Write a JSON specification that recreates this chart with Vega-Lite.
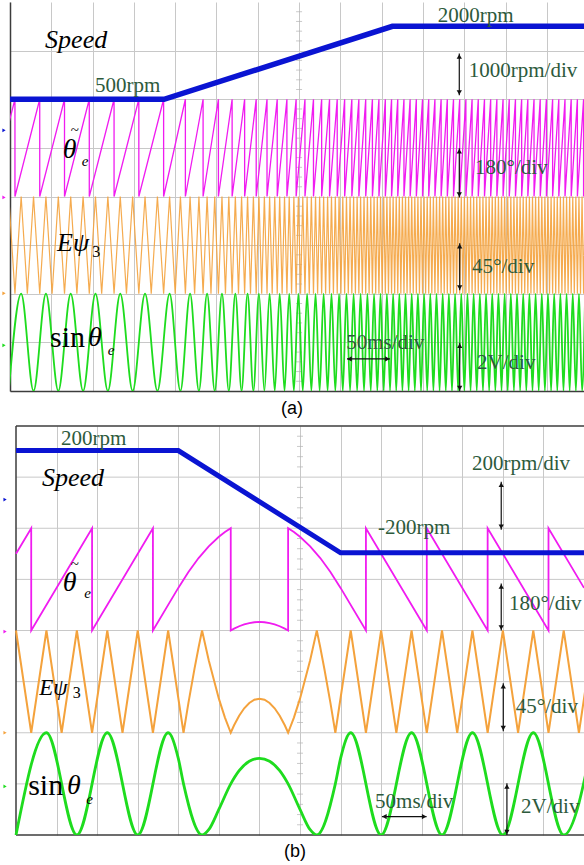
{
"$schema":"https://vega.github.io/schema/vega-lite/v6.json",
"background":"white",
"padding":{"left":2,"top":2,"right":0,"bottom":0},
"spacing":7,
"config":{"view":{"stroke":null}},
"datasets":{
"mt":[{"x":7,"y":0.2},{"x":7,"y":0.4},{"x":7,"y":0.6},{"x":7,"y":0.8},{"x":7,"y":1.2},{"x":7,"y":1.4},{"x":7,"y":1.6},{"x":7,"y":1.8},{"x":7,"y":2.2},{"x":7,"y":2.4},{"x":7,"y":2.6},{"x":7,"y":2.8},{"x":7,"y":3.2},{"x":7,"y":3.4},{"x":7,"y":3.6},{"x":7,"y":3.8},{"x":7,"y":4.2},{"x":7,"y":4.4},{"x":7,"y":4.6},{"x":7,"y":4.8},{"x":7,"y":5.2},{"x":7,"y":5.4},{"x":7,"y":5.6},{"x":7,"y":5.8},{"x":7,"y":6.2},{"x":7,"y":6.4},{"x":7,"y":6.6},{"x":7,"y":6.8},{"x":7,"y":7.2},{"x":7,"y":7.4},{"x":7,"y":7.6},{"x":7,"y":7.8}],
"amk":[{"x":-0.145,"y":5.36,"c":"Speed"},{"x":-0.145,"y":3.98,"c":"theta"},{"x":-0.145,"y":2.01,"c":"Epsi3"},{"x":-0.145,"y":0.94,"c":"sin"}],
"bmk":[{"x":-0.27,"y":6.56,"c":"Speed"},{"x":-0.27,"y":3.98,"c":"theta"},{"x":-0.27,"y":2.0,"c":"Epsi3"},{"x":-0.27,"y":0.95,"c":"sin"}],
"bgrid":[{"x":0,"y":1,"x2":14,"y2":1},{"x":0,"y":2,"x2":14,"y2":2},{"x":0,"y":3,"x2":14,"y2":3},{"x":0,"y":4,"x2":14,"y2":4},{"x":0,"y":5,"x2":14,"y2":5},{"x":0,"y":6,"x2":14,"y2":6},{"x":0,"y":7,"x2":14,"y2":7}],
"bframe":[{"x":0,"y":8,"x2":14,"y2":8},{"x":0,"y":0,"x2":14,"y2":0},{"x":0,"y":0,"x2":0,"y2":8}],
"asp":[{"x":0,"y":6},{"x":3.73,"y":6},{"x":9.26,"y":7.5},{"x":13.9,"y":7.5}],
"at":[{"x":-0.03,"y":5.5},
{"x":0.12,"y":6},{"x":0.12,"y":4},{"x":0.72,"y":6},{"x":0.72,"y":4},{"x":1.32,"y":6},{"x":1.32,"y":4},{"x":1.92,"y":6},{"x":1.92,"y":4},{"x":2.52,"y":6},{"x":2.52,"y":4},{"x":3.12,"y":6},{"x":3.12,"y":4},{"x":3.72,"y":6},{"x":3.72,"y":4},
{"x":4.247,"y":6},{"x":4.247,"y":4},{"x":4.676,"y":6},{"x":4.676,"y":4},{"x":5.047,"y":6},{"x":5.047,"y":4},{"x":5.379,"y":6},{"x":5.379,"y":4},{"x":5.682,"y":6},{"x":5.682,"y":4},{"x":5.962,"y":6},{"x":5.962,"y":4},{"x":6.224,"y":6},{"x":6.224,"y":4},{"x":6.471,"y":6},{"x":6.471,"y":4},{"x":6.706,"y":6},{"x":6.706,"y":4},{"x":6.929,"y":6},{"x":6.929,"y":4},{"x":7.143,"y":6},{"x":7.143,"y":4},{"x":7.349,"y":6},{"x":7.349,"y":4},{"x":7.547,"y":6},{"x":7.547,"y":4},{"x":7.738,"y":6},{"x":7.738,"y":4},{"x":7.924,"y":6},{"x":7.924,"y":4},{"x":8.104,"y":6},{"x":8.104,"y":4},{"x":8.278,"y":6},{"x":8.278,"y":4},{"x":8.448,"y":6},{"x":8.448,"y":4},{"x":8.614,"y":6},{"x":8.614,"y":4},{"x":8.776,"y":6},{"x":8.776,"y":4},{"x":8.934,"y":6},{"x":8.934,"y":4},{"x":9.089,"y":6},{"x":9.089,"y":4},
{"x":9.24,"y":6},{"x":9.24,"y":4},{"x":9.39,"y":6},{"x":9.39,"y":4},{"x":9.54,"y":6},{"x":9.54,"y":4},{"x":9.69,"y":6},{"x":9.69,"y":4},{"x":9.84,"y":6},{"x":9.84,"y":4},{"x":9.99,"y":6},{"x":9.99,"y":4},{"x":10.14,"y":6},{"x":10.14,"y":4},{"x":10.29,"y":6},{"x":10.29,"y":4},{"x":10.44,"y":6},{"x":10.44,"y":4},{"x":10.59,"y":6},{"x":10.59,"y":4},{"x":10.74,"y":6},{"x":10.74,"y":4},{"x":10.89,"y":6},{"x":10.89,"y":4},{"x":11.04,"y":6},{"x":11.04,"y":4},{"x":11.19,"y":6},{"x":11.19,"y":4},{"x":11.34,"y":6},{"x":11.34,"y":4},{"x":11.49,"y":6},{"x":11.49,"y":4},{"x":11.64,"y":6},{"x":11.64,"y":4},{"x":11.79,"y":6},{"x":11.79,"y":4},{"x":11.94,"y":6},{"x":11.94,"y":4},{"x":12.09,"y":6},{"x":12.09,"y":4},{"x":12.24,"y":6},{"x":12.24,"y":4},{"x":12.39,"y":6},{"x":12.39,"y":4},{"x":12.54,"y":6},{"x":12.54,"y":4},{"x":12.69,"y":6},{"x":12.69,"y":4},{"x":12.84,"y":6},{"x":12.84,"y":4},{"x":12.99,"y":6},{"x":12.99,"y":4},{"x":13.14,"y":6},{"x":13.14,"y":4},{"x":13.29,"y":6},{"x":13.29,"y":4},{"x":13.44,"y":6},{"x":13.44,"y":4},{"x":13.59,"y":6},{"x":13.59,"y":4},{"x":13.74,"y":6},{"x":13.74,"y":4},{"x":13.89,"y":6},{"x":13.89,"y":4},{"x":13.928,"y":4.5}],
"ao":[{"x":-0.03,"y":4},{"x":0.12,"y":2},{"x":0.27,"y":4},{"x":0.42,"y":2},{"x":0.57,"y":4},{"x":0.72,"y":2},{"x":0.87,"y":4},{"x":1.02,"y":2},{"x":1.17,"y":4},{"x":1.32,"y":2},{"x":1.47,"y":4},{"x":1.62,"y":2},{"x":1.77,"y":4},{"x":1.92,"y":2},{"x":2.07,"y":4},{"x":2.22,"y":2},{"x":2.37,"y":4},{"x":2.52,"y":2},{"x":2.67,"y":4},{"x":2.82,"y":2},{"x":2.97,"y":4},{"x":3.12,"y":2},{"x":3.27,"y":4},{"x":3.42,"y":2},{"x":3.57,"y":4},{"x":3.72,"y":2},
{"x":3.865,"y":4},{"x":4.0,"y":2},{"x":4.127,"y":4},{"x":4.247,"y":2},{"x":4.361,"y":4},{"x":4.471,"y":2},{"x":4.575,"y":4},{"x":4.676,"y":2},{"x":4.773,"y":4},{"x":4.867,"y":2},{"x":4.958,"y":4},{"x":5.047,"y":2},{"x":5.133,"y":4},{"x":5.217,"y":2},{"x":5.299,"y":4},{"x":5.379,"y":2},{"x":5.457,"y":4},{"x":5.533,"y":2},{"x":5.608,"y":4},{"x":5.682,"y":2},{"x":5.753,"y":4},{"x":5.824,"y":2},{"x":5.894,"y":4},{"x":5.962,"y":2},{"x":6.029,"y":4},{"x":6.095,"y":2},{"x":6.16,"y":4},{"x":6.224,"y":2},{"x":6.287,"y":4},{"x":6.349,"y":2},{"x":6.411,"y":4},{"x":6.471,"y":2},{"x":6.531,"y":4},{"x":6.59,"y":2},{"x":6.648,"y":4},{"x":6.706,"y":2},{"x":6.762,"y":4},{"x":6.819,"y":2},{"x":6.874,"y":4},{"x":6.929,"y":2},{"x":6.983,"y":4},{"x":7.037,"y":2},{"x":7.09,"y":4},{"x":7.143,"y":2},{"x":7.195,"y":4},{"x":7.247,"y":2},{"x":7.298,"y":4},{"x":7.349,"y":2},{"x":7.399,"y":4},{"x":7.449,"y":2},{"x":7.498,"y":4},{"x":7.547,"y":2},{"x":7.595,"y":4},{"x":7.643,"y":2},{"x":7.691,"y":4},{"x":7.738,"y":2},{"x":7.785,"y":4},{"x":7.832,"y":2},{"x":7.878,"y":4},{"x":7.924,"y":2},{"x":7.969,"y":4},{"x":8.014,"y":2},{"x":8.059,"y":4},{"x":8.104,"y":2},{"x":8.148,"y":4},{"x":8.192,"y":2},{"x":8.235,"y":4},{"x":8.278,"y":2},{"x":8.321,"y":4},{"x":8.364,"y":2},{"x":8.406,"y":4},{"x":8.448,"y":2},{"x":8.49,"y":4},{"x":8.532,"y":2},{"x":8.573,"y":4},{"x":8.614,"y":2},{"x":8.655,"y":4},{"x":8.696,"y":2},{"x":8.736,"y":4},{"x":8.776,"y":2},{"x":8.816,"y":4},{"x":8.856,"y":2},{"x":8.895,"y":4},{"x":8.934,"y":2},{"x":8.973,"y":4},{"x":9.012,"y":2},{"x":9.05,"y":4},{"x":9.089,"y":2},{"x":9.127,"y":4},{"x":9.165,"y":2},{"x":9.203,"y":4},{"x":9.24,"y":2},
{"x":9.278,"y":4},{"x":9.315,"y":2},{"x":9.353,"y":4},{"x":9.39,"y":2},{"x":9.428,"y":4},{"x":9.465,"y":2},{"x":9.503,"y":4},{"x":9.54,"y":2},{"x":9.578,"y":4},{"x":9.615,"y":2},{"x":9.653,"y":4},{"x":9.69,"y":2},{"x":9.728,"y":4},{"x":9.765,"y":2},{"x":9.803,"y":4},{"x":9.84,"y":2},{"x":9.878,"y":4},{"x":9.915,"y":2},{"x":9.953,"y":4},{"x":9.99,"y":2},{"x":10.028,"y":4},{"x":10.065,"y":2},{"x":10.103,"y":4},{"x":10.14,"y":2},{"x":10.178,"y":4},{"x":10.215,"y":2},{"x":10.253,"y":4},{"x":10.29,"y":2},{"x":10.328,"y":4},{"x":10.365,"y":2},{"x":10.403,"y":4},{"x":10.44,"y":2},{"x":10.478,"y":4},{"x":10.515,"y":2},{"x":10.553,"y":4},{"x":10.59,"y":2},{"x":10.628,"y":4},{"x":10.665,"y":2},{"x":10.703,"y":4},{"x":10.74,"y":2},{"x":10.778,"y":4},{"x":10.815,"y":2},{"x":10.853,"y":4},{"x":10.89,"y":2},{"x":10.928,"y":4},{"x":10.965,"y":2},{"x":11.003,"y":4},{"x":11.04,"y":2},{"x":11.078,"y":4},{"x":11.115,"y":2},{"x":11.153,"y":4},{"x":11.19,"y":2},{"x":11.228,"y":4},{"x":11.265,"y":2},{"x":11.303,"y":4},{"x":11.34,"y":2},{"x":11.378,"y":4},{"x":11.415,"y":2},{"x":11.453,"y":4},{"x":11.49,"y":2},{"x":11.528,"y":4},{"x":11.565,"y":2},{"x":11.603,"y":4},{"x":11.64,"y":2},{"x":11.678,"y":4},{"x":11.715,"y":2},{"x":11.753,"y":4},{"x":11.79,"y":2},{"x":11.828,"y":4},{"x":11.865,"y":2},{"x":11.903,"y":4},{"x":11.94,"y":2},{"x":11.978,"y":4},{"x":12.015,"y":2},{"x":12.053,"y":4},{"x":12.09,"y":2},{"x":12.128,"y":4},{"x":12.165,"y":2},{"x":12.203,"y":4},{"x":12.24,"y":2},{"x":12.278,"y":4},{"x":12.315,"y":2},{"x":12.353,"y":4},{"x":12.39,"y":2},{"x":12.428,"y":4},{"x":12.465,"y":2},{"x":12.503,"y":4},{"x":12.54,"y":2},{"x":12.578,"y":4},{"x":12.615,"y":2},{"x":12.653,"y":4},{"x":12.69,"y":2},{"x":12.728,"y":4},{"x":12.765,"y":2},{"x":12.803,"y":4},{"x":12.84,"y":2},{"x":12.878,"y":4},{"x":12.915,"y":2},{"x":12.953,"y":4},{"x":12.99,"y":2},{"x":13.028,"y":4},{"x":13.065,"y":2},{"x":13.103,"y":4},{"x":13.14,"y":2},{"x":13.178,"y":4},{"x":13.215,"y":2},{"x":13.253,"y":4},{"x":13.29,"y":2},{"x":13.328,"y":4},{"x":13.365,"y":2},{"x":13.403,"y":4},{"x":13.44,"y":2},{"x":13.478,"y":4},{"x":13.515,"y":2},{"x":13.553,"y":4},{"x":13.59,"y":2},{"x":13.628,"y":4},{"x":13.665,"y":2},{"x":13.703,"y":4},{"x":13.74,"y":2},{"x":13.778,"y":4},{"x":13.815,"y":2},{"x":13.853,"y":4},{"x":13.89,"y":2},{"x":13.928,"y":4}],
"as":[{"x":-0.03,"y":0},{"x":0.27,"y":2},{"x":0.57,"y":0},{"x":0.87,"y":2},{"x":1.17,"y":0},{"x":1.47,"y":2},{"x":1.77,"y":0},{"x":2.07,"y":2},{"x":2.37,"y":0},{"x":2.67,"y":2},{"x":2.97,"y":0},{"x":3.27,"y":2},{"x":3.57,"y":0},{"x":3.865,"y":2},{"x":4.127,"y":0},{"x":4.361,"y":2},{"x":4.575,"y":0},{"x":4.773,"y":2},{"x":4.958,"y":0},{"x":5.133,"y":2},{"x":5.299,"y":0},{"x":5.457,"y":2},{"x":5.608,"y":0},{"x":5.753,"y":2},{"x":5.894,"y":0},{"x":6.029,"y":2},{"x":6.16,"y":0},{"x":6.287,"y":2},{"x":6.411,"y":0},{"x":6.531,"y":2},{"x":6.648,"y":0},{"x":6.762,"y":2},{"x":6.874,"y":0},{"x":6.983,"y":2},{"x":7.09,"y":0},{"x":7.195,"y":2},{"x":7.298,"y":0},{"x":7.399,"y":2},{"x":7.498,"y":0},{"x":7.595,"y":2},{"x":7.691,"y":0},{"x":7.785,"y":2},{"x":7.878,"y":0},{"x":7.969,"y":2},{"x":8.059,"y":0},{"x":8.148,"y":2},{"x":8.235,"y":0},{"x":8.321,"y":2},{"x":8.406,"y":0},{"x":8.49,"y":2},{"x":8.573,"y":0},{"x":8.655,"y":2},{"x":8.736,"y":0},{"x":8.816,"y":2},{"x":8.895,"y":0},{"x":8.973,"y":2},{"x":9.05,"y":0},{"x":9.127,"y":2},{"x":9.203,"y":0},
{"x":9.278,"y":2},{"x":9.353,"y":0},{"x":9.428,"y":2},{"x":9.503,"y":0},{"x":9.578,"y":2},{"x":9.653,"y":0},{"x":9.728,"y":2},{"x":9.803,"y":0},{"x":9.878,"y":2},{"x":9.953,"y":0},{"x":10.028,"y":2},{"x":10.103,"y":0},{"x":10.178,"y":2},{"x":10.253,"y":0},{"x":10.328,"y":2},{"x":10.403,"y":0},{"x":10.478,"y":2},{"x":10.553,"y":0},{"x":10.628,"y":2},{"x":10.703,"y":0},{"x":10.778,"y":2},{"x":10.853,"y":0},{"x":10.928,"y":2},{"x":11.003,"y":0},{"x":11.078,"y":2},{"x":11.153,"y":0},{"x":11.228,"y":2},{"x":11.303,"y":0},{"x":11.378,"y":2},{"x":11.453,"y":0},{"x":11.528,"y":2},{"x":11.603,"y":0},{"x":11.678,"y":2},{"x":11.753,"y":0},{"x":11.828,"y":2},{"x":11.903,"y":0},{"x":11.978,"y":2},{"x":12.053,"y":0},{"x":12.128,"y":2},{"x":12.203,"y":0},{"x":12.278,"y":2},{"x":12.353,"y":0},{"x":12.428,"y":2},{"x":12.503,"y":0},{"x":12.578,"y":2},{"x":12.653,"y":0},{"x":12.728,"y":2},{"x":12.803,"y":0},{"x":12.878,"y":2},{"x":12.953,"y":0},{"x":13.028,"y":2},{"x":13.103,"y":0},{"x":13.178,"y":2},{"x":13.253,"y":0},{"x":13.328,"y":2},{"x":13.403,"y":0},{"x":13.478,"y":2},{"x":13.553,"y":0},{"x":13.628,"y":2},{"x":13.703,"y":0},{"x":13.778,"y":2},{"x":13.853,"y":0},{"x":13.928,"y":2}],
"bsp":[{"x":0,"y":7.52},{"x":4,"y":7.52},{"x":8,"y":5.52},{"x":14,"y":5.52}],
"bt":[{"x":0,"y":5.5},{"x":0.375,"y":6},{"x":0.375,"y":4},{"x":1.875,"y":6},{"x":1.875,"y":4},{"x":3.375,"y":6},{"x":3.375,"y":4},{"x":4.0,"y":4.833},{"x":4.25,"y":5.146},{"x":4.5,"y":5.417},{"x":4.75,"y":5.646},{"x":5.0,"y":5.833},{"x":5.15,"y":5.926},{"x":5.293,"y":6},{"x":5.293,"y":4},{"x":5.375,"y":4.036},{"x":5.5,"y":4.083},{"x":5.625,"y":4.12},{"x":5.75,"y":4.146},{"x":5.875,"y":4.161},{"x":6.0,"y":4.167},{"x":6.125,"y":4.161},{"x":6.25,"y":4.146},{"x":6.375,"y":4.12},{"x":6.5,"y":4.083},{"x":6.625,"y":4.036},{"x":6.707,"y":4},{"x":6.707,"y":6},{"x":6.85,"y":5.926},{"x":7.0,"y":5.833},{"x":7.25,"y":5.646},{"x":7.5,"y":5.417},{"x":7.75,"y":5.146},{"x":8.0,"y":4.833},{"x":8.625,"y":4},{"x":8.625,"y":6},{"x":10.125,"y":4},{"x":10.125,"y":6},{"x":11.625,"y":4},{"x":11.625,"y":6},{"x":13.125,"y":4},{"x":13.125,"y":6},{"x":14,"y":4.833}],
"bo":[{"x":0,"y":4},{"x":0.375,"y":2},{"x":0.75,"y":4},{"x":1.125,"y":2},{"x":1.5,"y":4},{"x":1.875,"y":2},{"x":2.25,"y":4},{"x":2.625,"y":2},{"x":3.0,"y":4},{"x":3.375,"y":2},{"x":3.75,"y":4},{"x":4.129,"y":2},{"x":4.25,"y":2.583},{"x":4.4,"y":3.253},{"x":4.5,"y":3.667},{"x":4.586,"y":4},{"x":4.75,"y":3.417},{"x":5.0,"y":2.667},{"x":5.15,"y":2.297},{"x":5.293,"y":2},{"x":5.375,"y":2.146},{"x":5.5,"y":2.333},{"x":5.625,"y":2.479},{"x":5.75,"y":2.583},{"x":5.875,"y":2.646},{"x":6.0,"y":2.667},{"x":6.125,"y":2.646},{"x":6.25,"y":2.583},{"x":6.375,"y":2.479},{"x":6.5,"y":2.333},{"x":6.625,"y":2.146},{"x":6.707,"y":2},{"x":6.85,"y":2.297},{"x":7.0,"y":2.667},{"x":7.25,"y":3.417},{"x":7.414,"y":4},{"x":7.5,"y":3.667},{"x":7.6,"y":3.253},{"x":7.75,"y":2.583},{"x":7.871,"y":2},{"x":8.25,"y":4},{"x":8.625,"y":2},{"x":9.0,"y":4},{"x":9.375,"y":2},{"x":9.75,"y":4},{"x":10.125,"y":2},{"x":10.5,"y":4},{"x":10.875,"y":2},{"x":11.25,"y":4},{"x":11.625,"y":2},{"x":12.0,"y":4},{"x":12.375,"y":2},{"x":12.75,"y":4},{"x":13.125,"y":2},{"x":13.5,"y":4},{"x":13.875,"y":2},{"x":14.25,"y":4}],
"bs":[{"x":0,"y":0},{"x":0.75,"y":2},{"x":1.5,"y":0},{"x":2.25,"y":2},{"x":3.0,"y":0},{"x":3.75,"y":2},{"x":4.0,"y":1.5},{"x":4.129,"y":1},{"x":4.586,"y":0},{"x":4.75,"y":0.103},{"x":5.0,"y":0.5},{"x":5.293,"y":1},{"x":5.5,"y":1.259},{"x":5.75,"y":1.442},{"x":6.0,"y":1.5},{"x":6.25,"y":1.442},{"x":6.5,"y":1.259},{"x":6.707,"y":1},{"x":7.0,"y":0.5},{"x":7.25,"y":0.103},{"x":7.414,"y":0},{"x":7.871,"y":1},{"x":8.0,"y":1.5},{"x":8.25,"y":2},{"x":9.0,"y":0},{"x":9.75,"y":2},{"x":10.5,"y":0},{"x":11.25,"y":2},{"x":12.0,"y":0},{"x":12.75,"y":2},{"x":13.5,"y":0},{"x":14.25,"y":2}]
},
"vconcat":[
{
"width":574,"height":389,
"title":{"text":"(a)","orient":"bottom","offset":8,"fontSize":18,"font":"Liberation Sans","fontWeight":"normal","color":"#000000","dx":-5},
"encoding":{
"x":{"field":"x","type":"quantitative","scale":{"domain":[0,13.9],"nice":false,"zero":false},"axis":{"title":null,"labels":false,"ticks":false,"values":[0,1,2,3,4,5,6,7,8,9,10,11,12,13],"grid":true,"gridColor":"#c8c8c8","gridWidth":1,"domainColor":"#3c3c3c","domainWidth":1.5}},
"y":{"field":"y","type":"quantitative","scale":{"domain":[0,8],"nice":false,"zero":false},"axis":{"title":null,"labels":false,"ticks":false,"values":[1,2,3,4,5,6,7],"grid":true,"gridColor":"#c8c8c8","gridWidth":1,"domainColor":"#3c3c3c","domainWidth":1.5}}
},
"layer":[
{"data":{"name":"mt"},"mark":{"type":"tick","orient":"horizontal","size":6,"thickness":1,"color":"#b4b4b4"}},
{"data":{"name":"amk"},"mark":{"type":"point","shape":"triangle-right","filled":true,"size":14,"opacity":1},"encoding":{"color":{"field":"c","type":"nominal","scale":{"domain":["Speed","theta","Epsi3","sin"],"range":["#0a14d2","#f01cf0","#f4a23c","#1edc1e"]},"legend":null}}},
{"data":{"name":"ao"},"mark":{"type":"line","color":"#f4a23c","strokeWidth":1.2,"opacity":0.9,"clip":true},"encoding":{"order":{"value":null}}},
{"data":{"name":"at"},"mark":{"type":"line","color":"#f01cf0","strokeWidth":1.3,"clip":true},"encoding":{"order":{"value":null}}},
{"data":{"name":"as"},"mark":{"type":"line","color":"#1edc1e","strokeWidth":1.8,"interpolate":"monotone","clip":true},"encoding":{"order":{"value":null}}},
{"data":{"name":"asp"},"mark":{"type":"line","color":"#0a14d2","strokeWidth":5.5,"clip":true},"encoding":{"order":{"value":null}}},
{"data":{"values":[{"x":2.06,"y":6.28,"t":"500rpm"},{"x":10.36,"y":7.72,"t":"2000rpm"},{"x":11.11,"y":6.59,"t":"1000rpm/div"},{"x":11.26,"y":4.58,"t":"180°/div"},{"x":11.19,"y":2.55,"t":"45°/div"},{"x":8.14,"y":0.99,"t":"50ms/div"},{"x":11.31,"y":0.57,"t":"2V/div"}]},
 "mark":{"type":"text","align":"left","baseline":"middle","font":"Liberation Serif","fontSize":21,"color":"#2d5a3c"},"encoding":{"text":{"field":"t"}}},
{"data":{"values":[{"x":0.85,"y":7.21,"t":"Speed"}]},"mark":{"type":"text","align":"left","baseline":"middle","font":"Liberation Serif","fontStyle":"italic","fontSize":26,"color":"#000000"},"encoding":{"text":{"field":"t"}}},
{"data":{"values":[{"x":1.28,"y":4.95,"t":"θ"},{"x":1.89,"y":1.09,"t":"θ"}]},"mark":{"type":"text","align":"left","baseline":"middle","font":"Liberation Serif","fontStyle":"italic","fontSize":28,"color":"#000000"},"encoding":{"text":{"field":"t"}}},
{"data":{"values":[{"x":1.57,"y":5.36,"t":"~"}]},"mark":{"type":"text","align":"center","baseline":"middle","font":"Liberation Serif","fontSize":15,"color":"#000000"},"encoding":{"text":{"field":"t"}}},
{"data":{"values":[{"x":1.14,"y":3.04,"t":"Eψ"}]},"mark":{"type":"text","align":"left","baseline":"middle","font":"Liberation Serif","fontStyle":"italic","fontSize":26,"color":"#000000"},"encoding":{"text":{"field":"t"}}},
{"data":{"values":[{"x":0.97,"y":1.09,"t":"sin"}]},"mark":{"type":"text","align":"left","baseline":"middle","font":"Liberation Serif","fontSize":30,"color":"#000000"},"encoding":{"text":{"field":"t"}}},
{"data":{"values":[{"x":1.74,"y":4.72,"t":"e"},{"x":2.37,"y":0.84,"t":"e"}]},"mark":{"type":"text","align":"left","baseline":"middle","font":"Liberation Serif","fontStyle":"italic","fontSize":15,"color":"#000000"},"encoding":{"text":{"field":"t"}}},
{"data":{"values":[{"x":1.99,"y":2.85,"t":"3"}]},"mark":{"type":"text","align":"left","baseline":"middle","font":"Liberation Serif","fontSize":16,"color":"#000000"},"encoding":{"text":{"field":"t"}}},
{"data":{"values":[{"x":10.88,"y":6.94,"x2":10.88,"y2":6.08},{"x":10.88,"y":4.99,"x2":10.88,"y2":3.98},{"x":10.89,"y":3.04,"x2":10.89,"y2":2.07},{"x":10.89,"y":0.99,"x2":10.89,"y2":0.0},{"x":8.16,"y":0.66,"x2":9.2,"y2":0.66}]},
 "mark":{"type":"rule","color":"#111111","strokeWidth":1.2},"encoding":{"x2":{"field":"x2"},"y2":{"field":"y2"}}},
{"data":{"values":[{"x":10.88,"y":6.88},{"x":10.88,"y":4.93},{"x":10.89,"y":2.98},{"x":10.89,"y":0.93}]},"mark":{"type":"point","shape":"triangle-up","filled":true,"size":28,"color":"#111111","opacity":1}},
{"data":{"values":[{"x":10.88,"y":6.14},{"x":10.88,"y":4.04},{"x":10.89,"y":2.13},{"x":10.89,"y":0.06}]},"mark":{"type":"point","shape":"triangle-down","filled":true,"size":28,"color":"#111111","opacity":1}},
{"data":{"values":[{"x":8.22,"y":0.66}]},"mark":{"type":"point","shape":"triangle-left","filled":true,"size":28,"color":"#111111","opacity":1}},
{"data":{"values":[{"x":9.14,"y":0.66}]},"mark":{"type":"point","shape":"triangle-right","filled":true,"size":28,"color":"#111111","opacity":1}}
]
},
{
"width":574,"height":409,
"title":{"text":"(b)","orient":"bottom","offset":7,"fontSize":18,"font":"Liberation Sans","fontWeight":"normal","color":"#000000","dx":-2},
"encoding":{
"x":{"field":"x","type":"quantitative","scale":{"domain":[-0.148,14],"nice":false,"zero":false},"axis":{"title":null,"labels":false,"ticks":false,"domain":false,"values":[1,2,3,4,5,6,7,8,9,10,11,12,13],"grid":true,"gridColor":"#c8c8c8","gridWidth":1}},
"y":{"field":"y","type":"quantitative","scale":{"domain":[0,8],"nice":false,"zero":false},"axis":null}
},
"layer":[
{"data":{"name":"bgrid"},"mark":{"type":"rule","color":"#c8c8c8","strokeWidth":1},"encoding":{"x2":{"field":"x2"},"y2":{"field":"y2"}}},
{"data":{"name":"mt"},"mark":{"type":"tick","orient":"horizontal","size":6,"thickness":1,"color":"#b4b4b4"}},
{"data":{"name":"bmk"},"mark":{"type":"point","shape":"triangle-right","filled":true,"size":14,"opacity":1},"encoding":{"color":{"field":"c","type":"nominal","scale":{"domain":["Speed","theta","Epsi3","sin"],"range":["#0a14d2","#f01cf0","#f4a23c","#1edc1e"]},"legend":null}}},
{"data":{"name":"bframe"},"mark":{"type":"rule","color":"#3c3c3c","strokeWidth":1.5},"encoding":{"x2":{"field":"x2"},"y2":{"field":"y2"}}},
{"data":{"name":"bo"},"mark":{"type":"line","color":"#f4a23c","strokeWidth":2,"clip":true},"encoding":{"order":{"value":null}}},
{"data":{"name":"bt"},"mark":{"type":"line","color":"#f01cf0","strokeWidth":1.8,"clip":true},"encoding":{"order":{"value":null}}},
{"data":{"name":"bs"},"mark":{"type":"line","color":"#1edc1e","strokeWidth":2.8,"interpolate":"monotone","clip":true},"encoding":{"order":{"value":null}}},
{"data":{"name":"bsp"},"mark":{"type":"line","color":"#0a14d2","strokeWidth":5,"clip":true},"encoding":{"order":{"value":null}}},
{"data":{"values":[{"x":1.11,"y":7.74,"t":"200rpm"},{"x":11.24,"y":7.25,"t":"200rpm/div"},{"x":8.92,"y":6.01,"t":"-200rpm"},{"x":12.15,"y":4.51,"t":"180°/div"},{"x":12.32,"y":2.51,"t":"45°/div"},{"x":8.85,"y":0.65,"t":"50ms/div"},{"x":12.45,"y":0.55,"t":"2V/div"}]},
 "mark":{"type":"text","align":"left","baseline":"middle","font":"Liberation Serif","fontSize":21,"color":"#2d5a3c"},"encoding":{"text":{"field":"t"}}},
{"data":{"values":[{"x":0.64,"y":6.98,"t":"Speed"}]},"mark":{"type":"text","align":"left","baseline":"middle","font":"Liberation Serif","fontStyle":"italic","fontSize":26,"color":"#000000"},"encoding":{"text":{"field":"t"}}},
{"data":{"values":[{"x":1.15,"y":4.92,"t":"θ"},{"x":1.26,"y":0.95,"t":"θ"}]},"mark":{"type":"text","align":"left","baseline":"middle","font":"Liberation Serif","fontStyle":"italic","fontSize":28,"color":"#000000"},"encoding":{"text":{"field":"t"}}},
{"data":{"values":[{"x":1.45,"y":5.31,"t":"~"}]},"mark":{"type":"text","align":"center","baseline":"middle","font":"Liberation Serif","fontSize":15,"color":"#000000"},"encoding":{"text":{"field":"t"}}},
{"data":{"values":[{"x":0.57,"y":2.87,"t":"Eψ"}]},"mark":{"type":"text","align":"left","baseline":"middle","font":"Liberation Serif","fontStyle":"italic","fontSize":23,"color":"#000000"},"encoding":{"text":{"field":"t"}}},
{"data":{"values":[{"x":0.3,"y":0.95,"t":"sin"}]},"mark":{"type":"text","align":"left","baseline":"middle","font":"Liberation Serif","fontSize":30,"color":"#000000"},"encoding":{"text":{"field":"t"}}},
{"data":{"values":[{"x":1.68,"y":4.74,"t":"e"},{"x":1.73,"y":0.71,"t":"e"}]},"mark":{"type":"text","align":"left","baseline":"middle","font":"Liberation Serif","fontStyle":"italic","fontSize":15,"color":"#000000"},"encoding":{"text":{"field":"t"}}},
{"data":{"values":[{"x":1.4,"y":2.77,"t":"3"}]},"mark":{"type":"text","align":"left","baseline":"middle","font":"Liberation Serif","fontSize":16,"color":"#000000"},"encoding":{"text":{"field":"t"}}},
{"data":{"values":[{"x":11.96,"y":6.91,"x2":11.96,"y2":5.97},{"x":11.96,"y":4.92,"x2":11.96,"y2":4.0},{"x":12.01,"y":2.97,"x2":12.01,"y2":2.03},{"x":12.1,"y":1.01,"x2":12.1,"y2":0.0},{"x":9.02,"y":0.36,"x2":10.12,"y2":0.36}]},
 "mark":{"type":"rule","color":"#111111","strokeWidth":1.2},"encoding":{"x2":{"field":"x2"},"y2":{"field":"y2"}}},
{"data":{"values":[{"x":11.96,"y":6.85},{"x":11.96,"y":4.86},{"x":12.01,"y":2.91},{"x":12.1,"y":0.95}]},"mark":{"type":"point","shape":"triangle-up","filled":true,"size":28,"color":"#111111","opacity":1}},
{"data":{"values":[{"x":11.96,"y":6.03},{"x":11.96,"y":4.06},{"x":12.01,"y":2.09},{"x":12.1,"y":0.06}]},"mark":{"type":"point","shape":"triangle-down","filled":true,"size":28,"color":"#111111","opacity":1}},
{"data":{"values":[{"x":9.08,"y":0.36}]},"mark":{"type":"point","shape":"triangle-left","filled":true,"size":28,"color":"#111111","opacity":1}},
{"data":{"values":[{"x":10.06,"y":0.36}]},"mark":{"type":"point","shape":"triangle-right","filled":true,"size":28,"color":"#111111","opacity":1}}
]
}
]
}
